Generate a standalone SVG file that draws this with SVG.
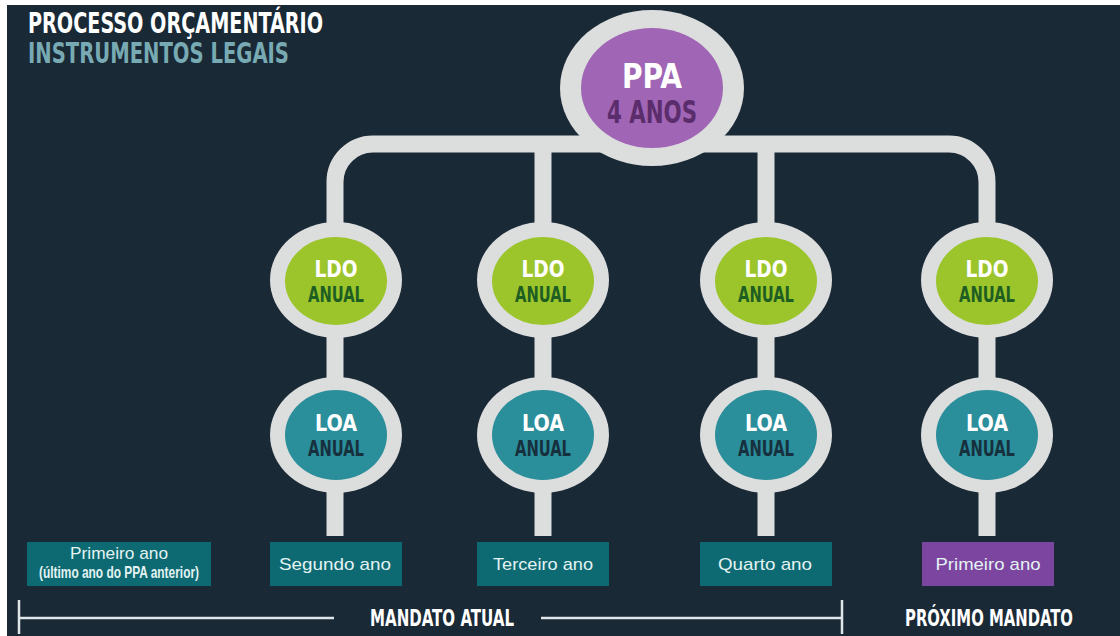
<svg xmlns="http://www.w3.org/2000/svg" width="1120" height="636" viewBox="0 0 1120 636">
<defs>
<style>
.cond{font-family:"DejaVu Sans Condensed","DejaVu Sans","Liberation Sans",sans-serif;font-weight:bold;font-stretch:condensed;}
.ring{fill:#dcdddd;}
.ldo{fill:#9bc52a;}
.loa{fill:#2b8e9b;}
.conn{fill:none;stroke:#dcdddd;stroke-width:17;}
.box{fill:#0e6a72;}
.boxp{fill:#7c46a0;}
.bt{font-family:"Liberation Sans",Arial,sans-serif;font-size:17px;fill:#e3f3f3;text-anchor:middle;}
.tl{stroke:#dfe6ea;stroke-width:2.5;fill:none;}
</style>
</defs>
<rect x="0" y="0" width="1120" height="636" fill="#ffffff"/>
<rect x="7" y="5" width="1113" height="631" fill="#1a2936"/>

<g id="title">
<text class="cond" x="28" y="33" font-size="28" fill="#ffffff" textLength="295" lengthAdjust="spacingAndGlyphs">PROCESSO ORÇAMENTÁRIO</text>
<text class="cond" x="28" y="63" font-size="28" fill="#78aab3" textLength="261" lengthAdjust="spacingAndGlyphs">INSTRUMENTOS LEGAIS</text>
</g>

<g id="connectors">
<path class="conn" d="M335,224 V182 A38,38 0 0 1 373,144 H949 A38,38 0 0 1 987,182 V224"/>
<path class="conn" d="M543,144 V224 M766,144 V224"/>
<path class="conn" d="M335,336 V379 M543,336 V379 M766,336 V379 M987,336 V379"/>
<path class="conn" d="M335,490 V536 M543,490 V536 M766,490 V536 M987,490 V536"/>
</g>

<g id="ppa">
<ellipse class="ring" cx="652" cy="88" rx="92" ry="78"/>
<ellipse cx="652" cy="88" rx="71" ry="60" fill="#a066b5"/>
<text class="cond" x="652" y="88" font-size="34" fill="#ffffff" text-anchor="middle" textLength="60" lengthAdjust="spacingAndGlyphs">PPA</text>
<text class="cond" x="652" y="123" font-size="32" fill="#5b2d6c" text-anchor="middle" textLength="90" lengthAdjust="spacingAndGlyphs">4 ANOS</text>
</g>

<g id="ldo1">
<ellipse class="ring" cx="336" cy="280" rx="66" ry="58"/>
<ellipse class="ldo" cx="336" cy="281" rx="51" ry="44"/>
<text class="cond" x="336" y="277" font-size="23" fill="#ffffff" text-anchor="middle" textLength="43" lengthAdjust="spacingAndGlyphs">LDO</text>
<text class="cond" x="336" y="302" font-size="22" fill="#1f5e22" text-anchor="middle" textLength="56" lengthAdjust="spacingAndGlyphs">ANUAL</text>
</g>
<g id="ldo2">
<ellipse class="ring" cx="543" cy="280" rx="66" ry="58"/>
<ellipse class="ldo" cx="543" cy="281" rx="51" ry="44"/>
<text class="cond" x="543" y="277" font-size="23" fill="#ffffff" text-anchor="middle" textLength="43" lengthAdjust="spacingAndGlyphs">LDO</text>
<text class="cond" x="543" y="302" font-size="22" fill="#1f5e22" text-anchor="middle" textLength="56" lengthAdjust="spacingAndGlyphs">ANUAL</text>
</g>
<g id="ldo3">
<ellipse class="ring" cx="766" cy="280" rx="66" ry="58"/>
<ellipse class="ldo" cx="766" cy="281" rx="51" ry="44"/>
<text class="cond" x="766" y="277" font-size="23" fill="#ffffff" text-anchor="middle" textLength="43" lengthAdjust="spacingAndGlyphs">LDO</text>
<text class="cond" x="766" y="302" font-size="22" fill="#1f5e22" text-anchor="middle" textLength="56" lengthAdjust="spacingAndGlyphs">ANUAL</text>
</g>
<g id="ldo4">
<ellipse class="ring" cx="987" cy="280" rx="66" ry="58"/>
<ellipse class="ldo" cx="987" cy="281" rx="51" ry="44"/>
<text class="cond" x="987" y="277" font-size="23" fill="#ffffff" text-anchor="middle" textLength="43" lengthAdjust="spacingAndGlyphs">LDO</text>
<text class="cond" x="987" y="302" font-size="22" fill="#1f5e22" text-anchor="middle" textLength="56" lengthAdjust="spacingAndGlyphs">ANUAL</text>
</g>

<g id="loa1">
<ellipse class="ring" cx="336" cy="435" rx="66" ry="58"/>
<ellipse class="loa" cx="336" cy="435" rx="51" ry="45"/>
<text class="cond" x="336" y="431" font-size="23" fill="#ffffff" text-anchor="middle" textLength="42" lengthAdjust="spacingAndGlyphs">LOA</text>
<text class="cond" x="336" y="456" font-size="22" fill="#17303e" text-anchor="middle" textLength="56" lengthAdjust="spacingAndGlyphs">ANUAL</text>
</g>
<g id="loa2">
<ellipse class="ring" cx="543" cy="435" rx="66" ry="58"/>
<ellipse class="loa" cx="543" cy="435" rx="51" ry="45"/>
<text class="cond" x="543" y="431" font-size="23" fill="#ffffff" text-anchor="middle" textLength="42" lengthAdjust="spacingAndGlyphs">LOA</text>
<text class="cond" x="543" y="456" font-size="22" fill="#17303e" text-anchor="middle" textLength="56" lengthAdjust="spacingAndGlyphs">ANUAL</text>
</g>
<g id="loa3">
<ellipse class="ring" cx="766" cy="435" rx="66" ry="58"/>
<ellipse class="loa" cx="766" cy="435" rx="51" ry="45"/>
<text class="cond" x="766" y="431" font-size="23" fill="#ffffff" text-anchor="middle" textLength="42" lengthAdjust="spacingAndGlyphs">LOA</text>
<text class="cond" x="766" y="456" font-size="22" fill="#17303e" text-anchor="middle" textLength="56" lengthAdjust="spacingAndGlyphs">ANUAL</text>
</g>
<g id="loa4">
<ellipse class="ring" cx="987" cy="435" rx="66" ry="58"/>
<ellipse class="loa" cx="987" cy="435" rx="51" ry="45"/>
<text class="cond" x="987" y="431" font-size="23" fill="#ffffff" text-anchor="middle" textLength="42" lengthAdjust="spacingAndGlyphs">LOA</text>
<text class="cond" x="987" y="456" font-size="22" fill="#17303e" text-anchor="middle" textLength="56" lengthAdjust="spacingAndGlyphs">ANUAL</text>
</g>

<g id="year0">
<rect class="box" x="27" y="542" width="184" height="44"/>
<text class="bt" x="119" y="559" font-size="15" textLength="98" lengthAdjust="spacingAndGlyphs">Primeiro ano</text>
<text class="bt" x="119" y="578" font-size="10.5" font-weight="bold" textLength="160" lengthAdjust="spacingAndGlyphs">(último ano do PPA anterior)</text>
</g>
<g id="year1">
<rect class="box" x="270" y="542" width="132" height="44"/>
<text class="bt" x="335" y="570" textLength="112" lengthAdjust="spacingAndGlyphs">Segundo ano</text>
</g>
<g id="year2">
<rect class="box" x="477" y="542" width="132" height="44"/>
<text class="bt" x="543" y="570" textLength="100" lengthAdjust="spacingAndGlyphs">Terceiro ano</text>
</g>
<g id="year3">
<rect class="box" x="700" y="542" width="132" height="44"/>
<text class="bt" x="765" y="570" textLength="94" lengthAdjust="spacingAndGlyphs">Quarto ano</text>
</g>
<g id="year4">
<rect class="boxp" x="922" y="542" width="132" height="44"/>
<text class="bt" x="988" y="570" fill="#f3e6f6" textLength="105" lengthAdjust="spacingAndGlyphs">Primeiro ano</text>
</g>

<g id="timeline">
<path class="tl" d="M19,600 V634 M19,618 H334 M541,618 H842 M842,600 V634"/>
<text class="cond" x="442" y="626" font-size="23" fill="#ffffff" text-anchor="middle" textLength="144" lengthAdjust="spacingAndGlyphs">MANDATO ATUAL</text>
<text class="cond" x="989" y="626" font-size="23" fill="#ffffff" text-anchor="middle" textLength="168" lengthAdjust="spacingAndGlyphs">PRÓXIMO MANDATO</text>
</g>
</svg>
